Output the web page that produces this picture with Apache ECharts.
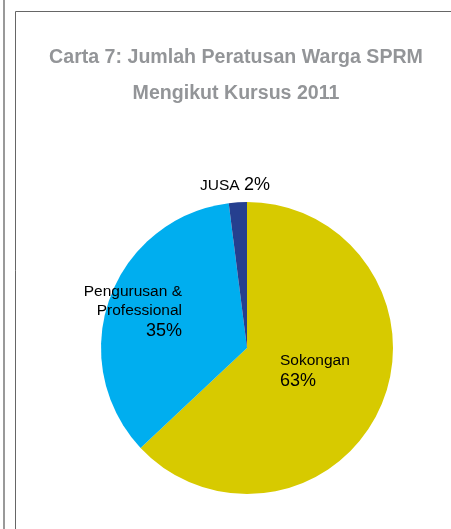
<!DOCTYPE html>
<html>
<head>
<meta charset="utf-8">
<script src="https://cdn.jsdelivr.net/npm/echarts@6/dist/echarts.min.js"></script>
<style>
html,body{margin:0;padding:0;background:#fff;}
#chart{width:451px;height:529px;}
</style>
</head>
<body>
<div id="chart"></div>
<script>
var titleLines = ['Carta 7: Jumlah Peratusan Warga SPRM', 'Mengikut Kursus 2011'];
var categories = ['Sokongan', 'Pengurusan &\nProfessional', 'JUSA'];
var values = [63, 35, 2];
var colors = ['#D7CA00', '#00AEEF', '#253F8F'];

var cx = 247, cy = 348, R = 146;
// label anchor positions relative to pie center
var labelPos = [
  {dx: 33, dy: 3, align: 'left'},
  {dx: -65, dy: -66, align: 'right'},
  {dx: -47, dy: -174, align: 'left'}
];

var chart = echarts.init(document.getElementById('chart'), null, {renderer: 'canvas'});
var fam = 'Liberation Sans, Arial, sans-serif';
var option = {
  backgroundColor: '#ffffff',
  animation: false,
  title: {
    text: titleLines.join('\n'),
    left: 231, top: 35,
    textAlign: 'center',
    textStyle: {
      fontFamily: 'Liberation Sans Narrow, Arial Narrow, Liberation Sans, sans-serif',
      fontWeight: 'bold', fontSize: 19.6, color: '#939598', lineHeight: 36
    }
  },
  graphic: [
    {type: 'line', shape: {x1: 4, y1: 0, x2: 4, y2: 529}, style: {stroke: '#777', lineWidth: 1.5}},
    {type: 'polyline', shape: {points: [[15.5, 529], [15.5, 11.5], [451, 11.5]]}, style: {stroke: '#666', lineWidth: 1, fill: null}}
  ],
  series: [{
    type: 'pie',
    center: [cx, cy],
    radius: R,
    startAngle: 90,
    clockwise: true,
    itemStyle: {borderWidth: 0},
    emphasis: {disabled: true},
    labelLine: {show: false},
    data: categories.map(function (c, i) {
      return {name: c, value: values[i], itemStyle: {color: colors[i]}};
    }),
    label: {
      show: true,
      position: 'inside',
      formatter: function (p) {
        var nm = p.name.split('\n').map(function (s) { return '{n|' + s + '}'; });
        if (p.dataIndex === 2) return '{n|' + p.name + ' }{v|' + p.value + '%}';
        return nm.join('\n') + '\n{v|' + p.value + '%}';
      },
      rich: {
        n: {fontFamily: fam, fontSize: 15.5, color: '#000', lineHeight: 19},
        v: {fontFamily: fam, fontSize: 18, color: '#000', lineHeight: 23}
      }
    },
    labelLayout: function (p) {
      var lp = labelPos[p.dataIndex];
      return {x: cx + lp.dx, y: cy + lp.dy, align: lp.align, verticalAlign: 'top'};
    }
  }]
};
chart.setOption(option);
</script>
</body>
</html>
